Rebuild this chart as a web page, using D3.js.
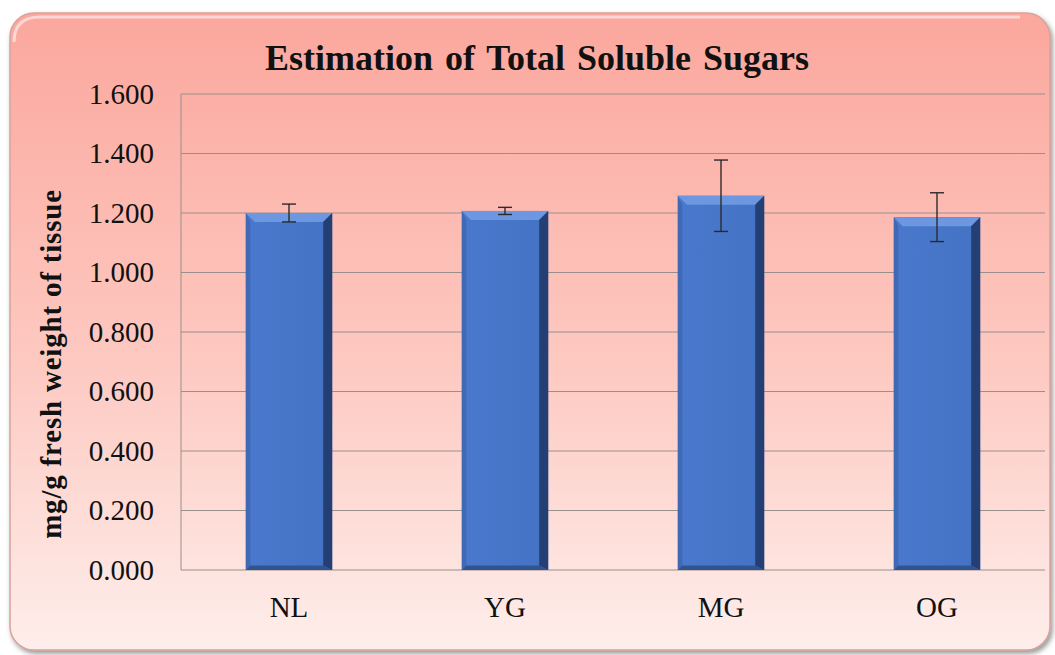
<!DOCTYPE html>
<html>
<head>
<meta charset="utf-8">
<script src="https://cdn.jsdelivr.net/npm/d3@7"></script>
<style>
  body { margin: 0; background: #ffffff; }
  text { font-family: "Liberation Serif", "Times New Roman", serif; fill: #111; }
</style>
</head>
<body>
<svg id="chart" width="1055" height="655"></svg>
<script>
// data
var categories = ['NL', 'YG', 'MG', 'OG'];
var sugars = [1.200, 1.207, 1.258, 1.186];
var errors = [0.030, 0.012, 0.120, 0.082];
var yTicks = [0, 0.2, 0.4, 0.6, 0.8, 1.0, 1.2, 1.4, 1.6];

var svg = d3.select('#chart');
var margin = {top: 94, right: 10, bottom: 85, left: 181},
    width = 1045 - margin.left,
    height = 570 - margin.top;

var defs = svg.append('defs');

// background gradient of the chart area
var bg = defs.append('linearGradient').attr('id', 'bg')
  .attr('x1', 0).attr('y1', 0).attr('x2', 0).attr('y2', 1);
bg.append('stop').attr('offset', '0%').attr('stop-color', '#fba79d');
bg.append('stop').attr('offset', '55%').attr('stop-color', '#fdc9c1');
bg.append('stop').attr('offset', '100%').attr('stop-color', '#feeeeb');

var shadow = defs.append('filter').attr('id', 'shadow')
  .attr('x', '-5%').attr('y', '-5%').attr('width', '110%').attr('height', '110%');
shadow.append('feDropShadow').attr('dx', 2).attr('dy', 3).attr('stdDeviation', 2.5)
  .attr('flood-color', '#555').attr('flood-opacity', 0.6);

var barFace = defs.append('linearGradient').attr('id', 'barFace')
  .attr('x1', 0).attr('y1', 0).attr('x2', 1).attr('y2', 0);
barFace.append('stop').attr('offset', '0%').attr('stop-color', '#4a78cc');
barFace.append('stop').attr('offset', '100%').attr('stop-color', '#4472c4');

svg.append('rect')
  .attr('x', 10).attr('y', 13).attr('width', 1040).attr('height', 637)
  .attr('rx', 24).attr('ry', 24)
  .attr('fill', 'url(#bg)')
  .attr('stroke', '#d9a39c').attr('stroke-width', 1.5)
  .attr('filter', 'url(#shadow)');

// top highlight of the bevelled frame
svg.append('path')
  .attr('d', 'M 14 42 Q 14 17 40 17 L 1020 17')
  .attr('fill', 'none').attr('stroke', '#ffffff').attr('stroke-opacity', 0.55)
  .attr('stroke-width', 3);

var g = svg.append('g')
  .attr('transform', 'translate(' + margin.left + ',' + margin.top + ')');

var x = d3.scaleBand().domain(categories).range([0, width]).paddingInner(0.6).paddingOuter(0.3);
var y = d3.scaleLinear().domain([0, 1.6]).range([height, 0]);

// gridlines
g.selectAll('.grid')
  .data(yTicks)
  .enter()
  .append('line')
    .attr('class', 'grid')
    .attr('x1', 0).attr('x2', width)
    .attr('y1', function(d) { return y(d); })
    .attr('y2', function(d) { return y(d); })
    .attr('stroke', '#9a8f8c').attr('stroke-width', 1);

// left axis line
g.append('line')
  .attr('x1', 0).attr('x2', 0).attr('y1', 0).attr('y2', height)
  .attr('stroke', '#9a8f8c').attr('stroke-width', 1);

// bars with a bevel look
var bars = g.selectAll('.bar')
  .data(sugars)
  .enter()
  .append('g')
    .attr('class', 'bar');

bars.each(function(d, i) {
  var bx = x(categories[i]), bw = x.bandwidth();
  var top = y(d), bot = y(0);
  var b = 9, sel = d3.select(this);
  sel.append('rect')
    .attr('x', bx).attr('y', top).attr('width', bw).attr('height', bot - top)
    .attr('fill', 'url(#barFace)');
  // top bevel
  sel.append('path')
    .attr('d', 'M' + bx + ',' + top + 'L' + (bx + bw) + ',' + top +
      'L' + (bx + bw - b) + ',' + (top + b) + 'L' + (bx + b) + ',' + (top + b) + 'Z')
    .attr('fill', '#6d97e0');
  // left bevel
  sel.append('path')
    .attr('d', 'M' + bx + ',' + top + 'L' + (bx + b * 0.5) + ',' + (top + b) +
      'L' + (bx + b * 0.5) + ',' + (bot - b * 0.5) + 'L' + bx + ',' + bot + 'Z')
    .attr('fill', '#3f68b5');
  // right bevel
  sel.append('path')
    .attr('d', 'M' + (bx + bw) + ',' + top + 'L' + (bx + bw - b) + ',' + (top + b) +
      'L' + (bx + bw - b) + ',' + (bot - b * 0.5) + 'L' + (bx + bw) + ',' + bot + 'Z')
    .attr('fill', '#243f73');
  // bottom bevel
  sel.append('path')
    .attr('d', 'M' + bx + ',' + bot + 'L' + (bx + b * 0.5) + ',' + (bot - b * 0.5) +
      'L' + (bx + bw - b) + ',' + (bot - b * 0.5) + 'L' + (bx + bw) + ',' + bot + 'Z')
    .attr('fill', '#2f548f');
});

// error bars
var eb = g.selectAll('.err')
  .data(sugars)
  .enter()
  .append('g')
    .attr('class', 'err')
    .attr('stroke', '#2b2b2b').attr('stroke-width', 1.4);

eb.append('line')
  .attr('x1', function(d, i) { return x(categories[i]) + x.bandwidth() / 2; })
  .attr('x2', function(d, i) { return x(categories[i]) + x.bandwidth() / 2; })
  .attr('y1', function(d, i) { return y(d + errors[i]); })
  .attr('y2', function(d, i) { return y(d - errors[i]); });

[1, -1].forEach(function(s) {
  eb.append('line')
    .attr('x1', function(d, i) { return x(categories[i]) + x.bandwidth() / 2 - 7; })
    .attr('x2', function(d, i) { return x(categories[i]) + x.bandwidth() / 2 + 7; })
    .attr('y1', function(d, i) { return y(d + s * errors[i]); })
    .attr('y2', function(d, i) { return y(d + s * errors[i]); });
});

// Y axis labels
g.append('g')
  .call(d3.axisLeft(y).tickValues(yTicks).tickFormat(d3.format('.3f')).tickSize(0).tickPadding(27))
  .call(function(a) { a.select('.domain').remove(); })
  .selectAll('text')
    .attr('font-size', 29)
    .attr('fill', '#111')
    .style('font-family', '"Liberation Serif", serif');

// X axis labels
g.append('g')
  .attr('transform', 'translate(0,' + height + ')')
  .call(d3.axisBottom(x).tickSize(0).tickPadding(26))
  .call(function(a) { a.select('.domain').remove(); })
  .selectAll('text')
    .attr('font-size', 29)
    .attr('fill', '#111')
    .style('font-family', '"Liberation Serif", serif');

// title
svg.append('text')
  .attr('x', 537).attr('y', 70)
  .attr('text-anchor', 'middle')
  .attr('font-size', 36)
  .attr('font-weight', 'bold')
  .attr('word-spacing', 3)
  .text('Estimation of Total Soluble Sugars');

// Y axis title
svg.append('text')
  .attr('transform', 'translate(61,' + (margin.top + height / 2 + 32) + ') rotate(-90)')
  .attr('text-anchor', 'middle')
  .attr('font-size', 29)
  .attr('font-weight', 'bold')
  .attr('letter-spacing', 0.8)
  .text('mg/g fresh weight of tissue');
</script>
</body>
</html>
